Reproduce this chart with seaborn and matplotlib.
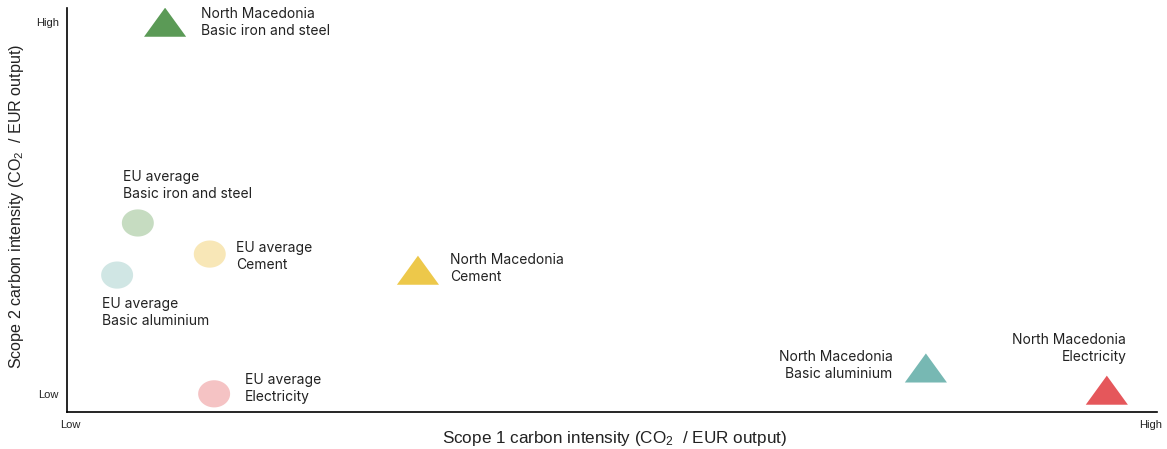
import numpy as np
import pandas as pd
import matplotlib
matplotlib.use("Agg")
import matplotlib.pyplot as plt
from matplotlib.path import Path
import seaborn as sns

# Relative carbon intensities on a 0-100 "Low"-to-"High" scale
eu_sectors = ["Basic iron and steel", "Cement", "Basic aluminium", "Electricity"]
eu_scope1 = [6.5, 13.1, 4.6, 13.5]
eu_scope2 = [46.8, 39.1, 33.9, 4.5]

nm_sectors = ["Basic iron and steel", "Cement", "Basic aluminium", "Electricity"]
nm_scope1 = [9.0, 32.2, 78.8, 95.4]
nm_scope2 = [96.5, 35.1, 10.9, 5.4]

eu_colors = {"Basic iron and steel": "#c6dcc1", "Cement": "#f8e7b7",
             "Basic aluminium": "#d0e6e4", "Electricity": "#f5c3c4"}
nm_colors = {"Basic iron and steel": "#5b9a56", "Cement": "#edc84a",
             "Basic aluminium": "#77b8b3", "Electricity": "#e5575b"}

x_ticks = [0.3, 99.4]
y_ticks = [4.5, 96.5]
tick_labels = ["Low", "High"]

eu = pd.DataFrame({"sector": eu_sectors, "scope1": eu_scope1, "scope2": eu_scope2})
nm = pd.DataFrame({"sector": nm_sectors, "scope1": nm_scope1, "scope2": nm_scope2})

sns.set_theme(style="white")
plt.rcParams["font.family"] = ["Liberation Sans", "DejaVu Sans"]
plt.rcParams["mathtext.default"] = "regular"

# flattened markers: wide triangle and an ellipse
tri = Path([(-1, -0.69), (1, -0.69), (0, 0.69), (-1, -0.69)],
           [Path.MOVETO, Path.LINETO, Path.LINETO, Path.CLOSEPOLY])
t = np.linspace(0, 2 * np.pi, 60)
ell = Path(np.column_stack([np.cos(t), 0.85 * np.sin(t)]))

fig = plt.figure(figsize=(11.67, 4.49), dpi=100)
ax = fig.add_axes([0.0574, 0.0824, 0.934, 0.8996])

sns.scatterplot(data=eu, x="scope1", y="scope2", hue="sector", palette=eu_colors,
                marker=ell, s=530, linewidth=0, legend=False, ax=ax)
sns.scatterplot(data=nm, x="scope1", y="scope2", hue="sector", palette=nm_colors,
                marker=tri, s=920, linewidth=0, legend=False, ax=ax)

# label offsets in points: (dx, dy, horizontal alignment)
eu_offsets = {"Basic iron and steel": (-11, 27, "left"), "Cement": (19, -2, "left"),
              "Basic aluminium": (-11, -27, "left"), "Electricity": (22, 4, "left")}
nm_offsets = {"Basic iron and steel": (26, 0, "left"), "Cement": (23, 1, "left"),
              "Basic aluminium": (-24, 2, "right"), "Electricity": (14, 30, "right")}

label_font = dict(family=["Inter", "DejaVu Sans"], fontsize=10, color="#222222",
                  linespacing=1.3, va="center")
for _, r in eu.iterrows():
    dx, dy, ha = eu_offsets[r.sector]
    ax.annotate(f"EU average\n{r.sector}", (r.scope1, r.scope2), xytext=(dx, dy),
                textcoords="offset points", ha=ha, ma=ha, **label_font)
for _, r in nm.iterrows():
    dx, dy, ha = nm_offsets[r.sector]
    ax.annotate(f"North Macedonia\n{r.sector}", (r.scope1, r.scope2), xytext=(dx, dy),
                textcoords="offset points", ha=ha, ma=ha, **label_font)

ax.set_xlim(0, 100)
ax.set_ylim(0, 100)
ax.set_xticks(x_ticks)
ax.set_xticklabels(tick_labels)
ax.set_yticks(y_ticks)
ax.set_yticklabels(tick_labels)
ax.tick_params(axis="both", length=0, labelsize=8, colors="#222222")
ax.tick_params(axis="x", pad=6)
ax.tick_params(axis="y", pad=6)

ax.set_xlabel("Scope 1 carbon intensity (CO$_2$  / EUR output)", fontsize=12.3,
              color="#222222", va="center")
ax.set_ylabel("Scope 2 carbon intensity (CO$_2$  / EUR output)", fontsize=11.6,
              color="#222222", va="center")
ax.xaxis.set_label_coords(0.502, -0.066)
ax.yaxis.set_label_coords(-0.046, 0.51)

for side in ["top", "right"]:
    ax.spines[side].set_visible(False)
for side in ["left", "bottom"]:
    ax.spines[side].set_color("black")
    ax.spines[side].set_linewidth(1.2)

fig.savefig("out.png", dpi=100, facecolor="white")
